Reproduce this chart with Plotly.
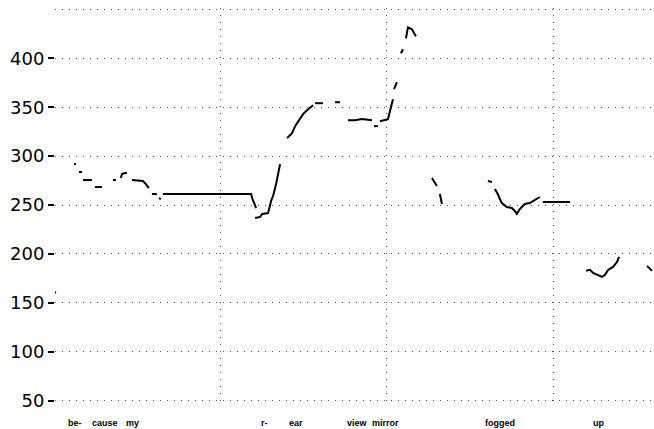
import plotly.graph_objects as go

# Pitch track (F0, Hz) vs time (s); gaps separate voiced stretches
seg_t = [
    [-0.006, 0.006],
    [0.060, 0.066],
    [0.075, 0.084],
    [0.087, 0.114],
    [0.123, 0.144],
    [0.177, 0.186],
    [0.201, 0.204, 0.213, 0.219],
    [0.234, 0.267, 0.276, 0.285],
    [0.294, 0.309],
    [0.315, 0.321],
    [0.327, 0.592, 0.595, 0.601, 0.607],
    [0.604, 0.619, 0.625, 0.643, 0.652, 0.658, 0.667, 0.673, 0.679],
    [0.700, 0.715, 0.724, 0.739, 0.748, 0.760, 0.769, 0.778],
    [0.784, 0.808],
    [0.844, 0.859],
    [0.883, 0.904, 0.925, 0.955],
    [0.961, 0.973],
    [0.979, 1.003, 1.009, 1.018],
    [1.021, 1.030],
    [1.042, 1.048],
    [1.057, 1.063, 1.075, 1.087],
    [1.135, 1.150],
    [1.159, 1.165],
    [1.303, 1.315],
    [1.324, 1.333, 1.339, 1.345, 1.360, 1.375, 1.384, 1.390, 1.399, 1.414, 1.429, 1.444, 1.459],
    [1.468, 1.544, 1.550],
    [1.598, 1.610, 1.619, 1.634, 1.646, 1.655, 1.664, 1.679, 1.691, 1.697],
    [1.781, 1.796],
]
seg_f0 = [
    [162.2, 160.2],
    [291.8, 291.8],
    [283.7, 283.7],
    [275.5, 275.5],
    [268.4, 268.4],
    [275.5, 275.5],
    [277.6, 281.6, 282.7, 282.7],
    [275.5, 274.5, 271.4, 267.3],
    [261.2, 261.2],
    [257.1, 256.1],
    [261.2, 261.2, 257.1, 252.0, 246.9],
    [236.7, 237.8, 240.8, 241.8, 254.1, 259.2, 271.4, 282.7, 291.8],
    [318.4, 323.5, 330.6, 337.8, 342.9, 346.9, 349.0, 352.0],
    [354.1, 354.1],
    [355.1, 355.1],
    [336.7, 336.7, 337.8, 336.7],
    [330.6, 330.6],
    [335.7, 337.8, 345.9, 358.2],
    [368.4, 375.5],
    [405.1, 409.2],
    [420.4, 431.6, 429.6, 422.4],
    [277.6, 269.4],
    [261.2, 251.0],
    [274.5, 273.5],
    [266.3, 261.2, 256.1, 252.0, 248.0, 246.9, 243.9, 240.8, 245.9, 251.0, 252.0, 255.1, 258.2],
    [253.1, 253.1, 253.1],
    [182.7, 183.7, 180.6, 178.6, 176.5, 178.6, 183.7, 186.7, 191.8, 196.9],
    [187.8, 182.7],
]

words = ["be-", "cause", "my", "r-", "ear", "view", "mirror", "fogged", "up"]
word_t = [0.063, 0.152, 0.236, 0.631, 0.727, 0.911, 0.997, 1.339, 1.634]

y_ticks = [50, 100, 150, 200, 250, 300, 350, 400]
y_tick_text = [str(v) for v in y_ticks]
x_grid = [0.5, 1.0, 1.5]

xs, ys = [], []
for t, f in zip(seg_t, seg_f0):
    xs += t + [None]
    ys += f + [None]

fig = go.Figure()
fig.add_trace(go.Scatter(x=xs, y=ys, mode="lines", cliponaxis=False,
                         line=dict(color="black", width=2),
                         connectgaps=False, showlegend=False, hoverinfo="skip"))

for w, t in zip(words, word_t):
    fig.add_annotation(x=t, y=0, xref="x", yref="paper", yshift=-16,
                       text="<b>" + w + "</b>", showarrow=False,
                       font=dict(family="Liberation Sans", size=9, color="black"),
                       xanchor="center", yanchor="middle")

grid_style = dict(gridcolor="#555", gridwidth=1, griddash="1px,6px")

fig.update_layout(
    width=654, height=429,
    margin=dict(l=55, r=0, t=8, b=22),
    paper_bgcolor="white", plot_bgcolor="white",
    xaxis=dict(range=[0.003, 1.802], tickvals=x_grid, showticklabels=False,
               automargin=False,
               ticks="", showline=False, zeroline=False, showgrid=True, **grid_style),
    yaxis=dict(range=[43.5, 451.4], tickvals=y_ticks, ticktext=y_tick_text,
               automargin=False,
               ticks="outside", ticklen=6, tickwidth=2, tickcolor="black",
               tickfont=dict(family="DejaVu Sans", size=18, color="black"),
               showline=False, zeroline=False, showgrid=True, **grid_style,
               minor=dict(tickvals=[450], showgrid=True, ticks="", **grid_style)),
)

# remove the browser's default page margin so the figure fills the window exactly
fig.write_html("out.html", config=dict(displayModeBar=False),
               post_script="document.body.style.margin='0';document.body.style.overflow='hidden';")
